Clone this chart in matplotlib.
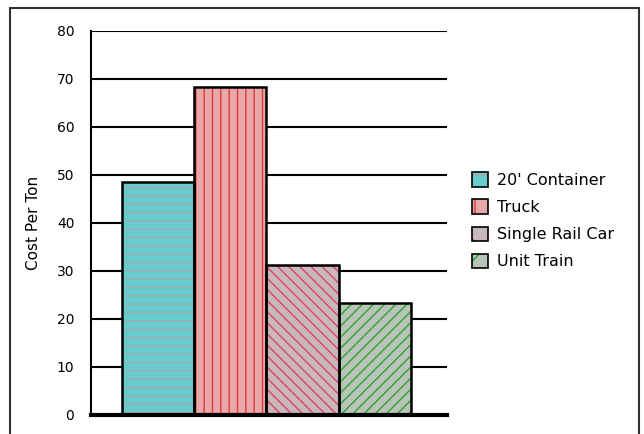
import matplotlib.pyplot as plt
from matplotlib.patches import Patch, Rectangle
from matplotlib.legend_handler import HandlerTuple

# データ
modes = ["20' Container", "Truck", "Single Rail Car", "Unit Train"]
cost_per_ton = [48.5, 68.3, 31.3, 23.3]
yticks = [0, 10, 20, 30, 40, 50, 60, 70, 80]

face_colors = ['#66CCCC', '#E8A8A8', '#C8B8BC', '#B8C4B8']
hatch_colors = ['#A8A8B0', '#E03838', '#E0406A', '#30A030']
hatches = ['--', '||', '\\\\\\', '///']

plt.rcParams['font.family'] = ['DejaVu Sans']

fig = plt.figure(figsize=(6.44, 4.34), dpi=100)
# 外枠
fig.patches.append(Rectangle((10 / 644, -0.05), 629 / 644, 1 - 8 / 434 + 0.05,
                             transform=fig.transFigure, fill=False,
                             edgecolor='#303030', linewidth=1.5))

ax = fig.add_axes([91 / 644, 1 - 415 / 434, 356 / 644, 384 / 434])

x = list(range(len(modes)))
handles = []
for i in x:
    ax.bar(i, cost_per_ton[i], width=1.0, color=face_colors[i], linewidth=0, zorder=3)
    ax.bar(i, cost_per_ton[i], width=1.0, color='none', edgecolor=hatch_colors[i],
           hatch=hatches[i], linewidth=0, zorder=4)
    ax.bar(i, cost_per_ton[i], width=1.0, color='none', edgecolor='black',
           linewidth=1.8, zorder=5)
    h0 = Patch(facecolor=face_colors[i], linewidth=0)
    h1 = Patch(facecolor='none', edgecolor=hatch_colors[i],
               hatch=hatches[i][0], linewidth=0)
    h2 = Patch(facecolor='none', edgecolor='black', linewidth=1.2)
    handles.append((h0, h1, h2))

ax.set_xlim(-0.93, 4.0)
ax.set_ylim(0, 80)
ax.set_yticks(yticks)
ax.set_xticks([])
ax.yaxis.grid(True, color='black', linewidth=1.5, zorder=1)
ax.tick_params(axis='y', length=0, pad=12, labelsize=10)
ax.spines['right'].set_visible(False)
ax.spines['top'].set_visible(False)
ax.spines['left'].set_linewidth(1.5)
ax.spines['bottom'].set_linewidth(3)
ax.spines['bottom'].set_zorder(6)
ax.set_ylabel('Cost Per Ton', fontsize=11, labelpad=11)

fig.legend(handles, modes, handler_map={tuple: HandlerTuple(ndivide=1)},
           loc='upper left', bbox_to_anchor=(458 / 644, 1 - 158 / 434),
           frameon=False, fontsize=11.5, handlelength=1.0, handleheight=1.0,
           labelspacing=0.72, handletextpad=0.55)

plt.savefig('out.png', dpi=100)
